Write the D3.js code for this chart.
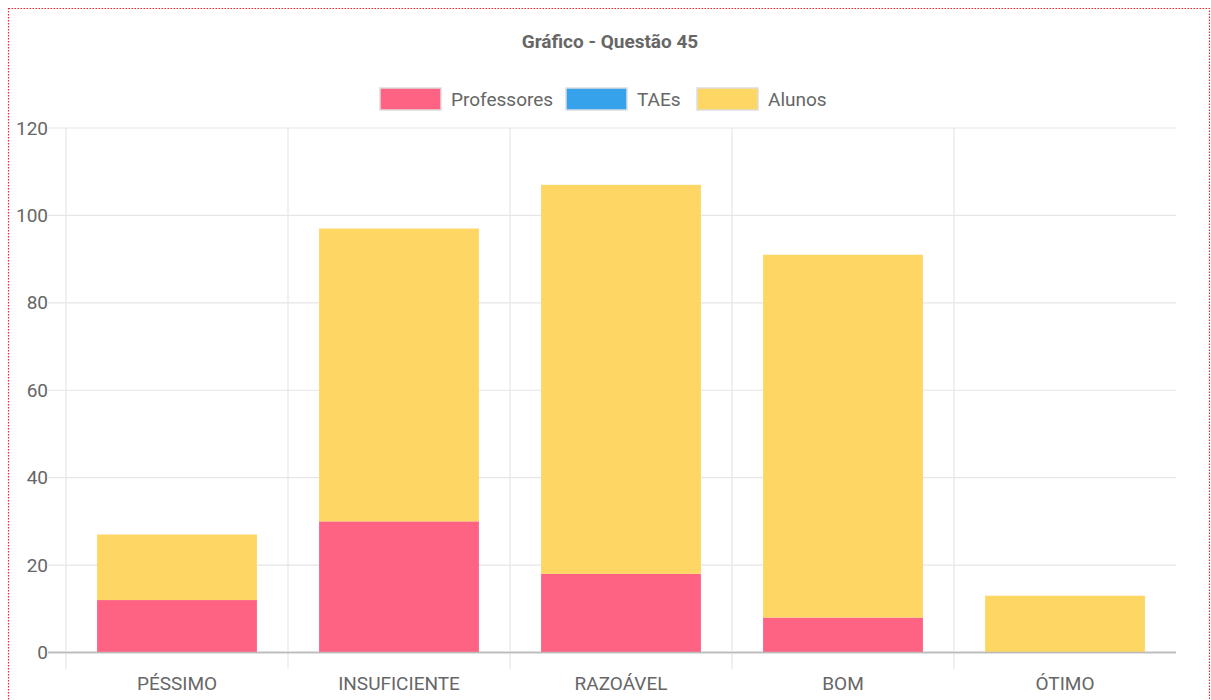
<!DOCTYPE html>
<html><head><meta charset="utf-8">
<script src="https://cdn.jsdelivr.net/npm/d3@7"></script>
<style>
body{margin:0;background:#fff;}
svg{display:block;}
text{font-family:"Liberation Sans Narrow","Roboto",sans-serif;fill:#666;}
</style></head><body>
<svg id="c" width="1211" height="700"></svg>
<script>
const title = "Gráfico - Questão 45";
const categories = ["PÉSSIMO","INSUFICIENTE","RAZOÁVEL","BOM","ÓTIMO"];
const seriesNames = ["Professores","TAEs","Alunos"];
const professores = [12,30,18,8,0];
const taes = [0,0,0,0,0];
const alunos = [15,67,89,83,13];
const yTicks = [0,20,40,60,80,100,120];
const colors = ["#ff6384","#36a2eb","#fdd663"];

(function(){
const svg = d3.select("#c");
svg.append("rect").attr("x",8.5).attr("y",8.5).attr("width",1201).attr("height",700)
  .attr("fill","none").attr("stroke","#f22").attr("stroke-width",1.2).attr("stroke-dasharray","1.5,1.5");

const pLeft=66, pRight=1176, pTop=128, pBottom=652.5;
const x = d3.scaleBand().domain(categories).range([pLeft,pRight]).paddingInner(0).paddingOuter(0);
const y = d3.scaleLinear().domain([0,120]).range([pBottom,pTop]);

const g = svg.append("g");
yTicks.forEach(t=>{
  g.append("line").attr("x1",48).attr("x2",pRight).attr("y1",y(t)).attr("y2",y(t))
   .attr("stroke",t===0?"#bbb":"#e6e6e6").attr("stroke-width",t===0?1.5:1.2);
  g.append("text").attr("x",48).attr("y",y(t)).attr("dy","0.35em").attr("text-anchor","end")
   .attr("font-size",19).text(t);
});
categories.forEach(c=>{
  const xx = x(c);
  g.append("line").attr("x1",xx).attr("x2",xx).attr("y1",pTop).attr("y2",669)
   .attr("stroke","#e6e6e6").attr("stroke-width",1.2);
});

const rows = categories.map((c,i)=>({cat:c,Professores:professores[i],TAEs:taes[i],Alunos:alunos[i]}));
const stack = d3.stack().keys(seriesNames)(rows);
const bw = x.bandwidth()*0.72;
stack.forEach((s,si)=>{
  svg.append("g").selectAll("rect").data(s).join("rect")
    .attr("x",d=>x(d.data.cat)+(x.bandwidth()-bw)/2)
    .attr("width",bw)
    .attr("y",d=>y(d[1]))
    .attr("height",d=>Math.max(0,y(d[0])-y(d[1])))
    .attr("fill",colors[si]);
});
svg.append("line").attr("x1",48).attr("x2",pRight).attr("y1",pBottom).attr("y2",pBottom)
  .attr("stroke","#bbb").attr("stroke-width",1.5);

categories.forEach(c=>{
  svg.append("text").attr("x",x(c)+x.bandwidth()/2).attr("y",690).attr("text-anchor","middle")
    .attr("font-size",19).text(c);
});

svg.append("text").attr("x",610).attr("y",48).attr("text-anchor","middle")
  .attr("font-size",19).attr("font-weight","bold").text(title);

const legendX=[380,566,697];
seriesNames.forEach((n,i)=>{
  svg.append("rect").attr("x",legendX[i]).attr("y",88).attr("width",61).attr("height",22)
    .attr("fill",colors[i]).attr("stroke","#ddd").attr("stroke-width",1.5);
  svg.append("text").attr("x",legendX[i]+71).attr("y",99).attr("dy","0.35em")
    .attr("font-size",19).text(n);
});
})();
</script></body></html>
